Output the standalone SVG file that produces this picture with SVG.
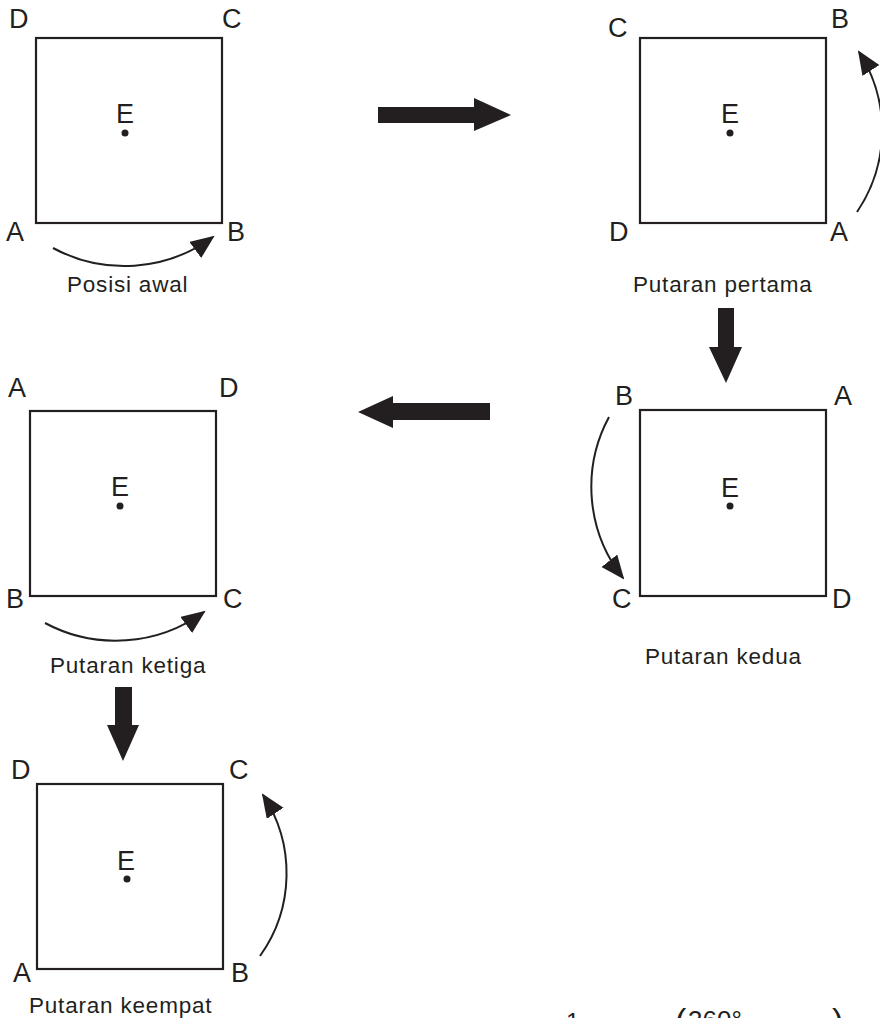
<svg xmlns="http://www.w3.org/2000/svg" width="880" height="1018" viewBox="0 0 880 1018">
<style>
.sq{fill:none;stroke:#231f20;stroke-width:2.2}
.lb{font-family:"Liberation Sans",Arial,sans-serif;font-size:27px;fill:#231f20}
.cap{font-family:"Liberation Sans",Arial,sans-serif;font-size:22.5px;fill:#231f20;letter-spacing:0.8px}
.dot{fill:#231f20}
.arc{fill:none;stroke:#231f20;stroke-width:2;marker-end:url(#ah)}
.big{fill:#231f20}
.fm{font-family:"Liberation Sans",Arial,sans-serif;fill:#231f20}
</style>
<defs>
<marker id="ah" markerUnits="userSpaceOnUse" markerWidth="30" markerHeight="24" refX="22" refY="10" orient="auto">
<path d="M0,0 L24,10 L0,20 z" fill="#231f20"/>
</marker>
</defs>
<rect width="880" height="1018" fill="#ffffff"/>

<g id="posisi-awal">
<rect class="sq" x="36" y="38" width="186" height="185"/>
<text class="lb" x="9" y="28">D</text>
<text class="lb" x="222" y="28">C</text>
<text class="lb" x="6" y="241">A</text>
<text class="lb" x="227" y="241">B</text>
<text class="lb" x="116" y="123">E</text>
<circle class="dot" cx="125" cy="133" r="3.5"/>
<path class="arc" d="M53,248 A150,150 0 0 0 213,237"/>
<text class="cap" x="67" y="292">Posisi awal</text>
</g>

<g id="putaran-pertama">
<rect class="sq" x="640" y="38" width="186" height="185"/>
<text class="lb" x="608" y="37">C</text>
<text class="lb" x="831" y="28">B</text>
<text class="lb" x="609" y="241">D</text>
<text class="lb" x="830" y="241">A</text>
<text class="lb" x="721" y="123">E</text>
<circle class="dot" cx="730" cy="133" r="3.5"/>
<path class="arc" d="M857,212 A145,145 0 0 0 859,52"/>
<text class="cap" x="633" y="292">Putaran pertama</text>
</g>

<g id="putaran-kedua">
<rect class="sq" x="640" y="410" width="186" height="186"/>
<text class="lb" x="615" y="405">B</text>
<text class="lb" x="834" y="405">A</text>
<text class="lb" x="612" y="608">C</text>
<text class="lb" x="832" y="608">D</text>
<text class="lb" x="721" y="497">E</text>
<circle class="dot" cx="730" cy="506" r="3.5"/>
<path class="arc" d="M609,417 A147,147 0 0 0 623,578"/>
<text class="cap" x="645" y="664">Putaran kedua</text>
</g>

<g id="putaran-ketiga">
<rect class="sq" x="30" y="411" width="186" height="185"/>
<text class="lb" x="8" y="397">A</text>
<text class="lb" x="219" y="397">D</text>
<text class="lb" x="6" y="608">B</text>
<text class="lb" x="223" y="608">C</text>
<text class="lb" x="111" y="496">E</text>
<circle class="dot" cx="120" cy="506" r="3.5"/>
<path class="arc" d="M45,623 A150,150 0 0 0 204,612"/>
<text class="cap" x="50" y="673">Putaran ketiga</text>
</g>

<g id="putaran-keempat">
<rect class="sq" x="37" y="784" width="186" height="185"/>
<text class="lb" x="11" y="779">D</text>
<text class="lb" x="229" y="779">C</text>
<text class="lb" x="13" y="982">A</text>
<text class="lb" x="231" y="982">B</text>
<text class="lb" x="117" y="870">E</text>
<circle class="dot" cx="127" cy="879" r="3.5"/>
<path class="arc" d="M260,956 A142,142 0 0 0 263,795"/>
<text class="cap" x="29" y="1013">Putaran keempat</text>
</g>

<g id="rumus">
<text class="fm" x="566" y="1030" font-size="24">1</text>
<text class="fm" x="675" y="1032" font-size="34">(</text>
<text class="fm" x="688" y="1029" font-size="26">360°</text>
<text class="fm" x="832" y="1032" font-size="34">)</text>
</g>

<g id="connectors">
<polygon class="big" points="378,107 474,107 474,98 511,115 474,131 474,123 378,123"/>
<polygon class="big" points="718,308 734,308 734,347 742,347 726,383 709,347 718,347"/>
<polygon class="big" points="490,403 393,403 393,396 358,412 393,428 393,420 490,420"/>
<polygon class="big" points="115,687 132,687 132,725 139,725 123,761 107,725 115,725"/>
</g>
</svg>
